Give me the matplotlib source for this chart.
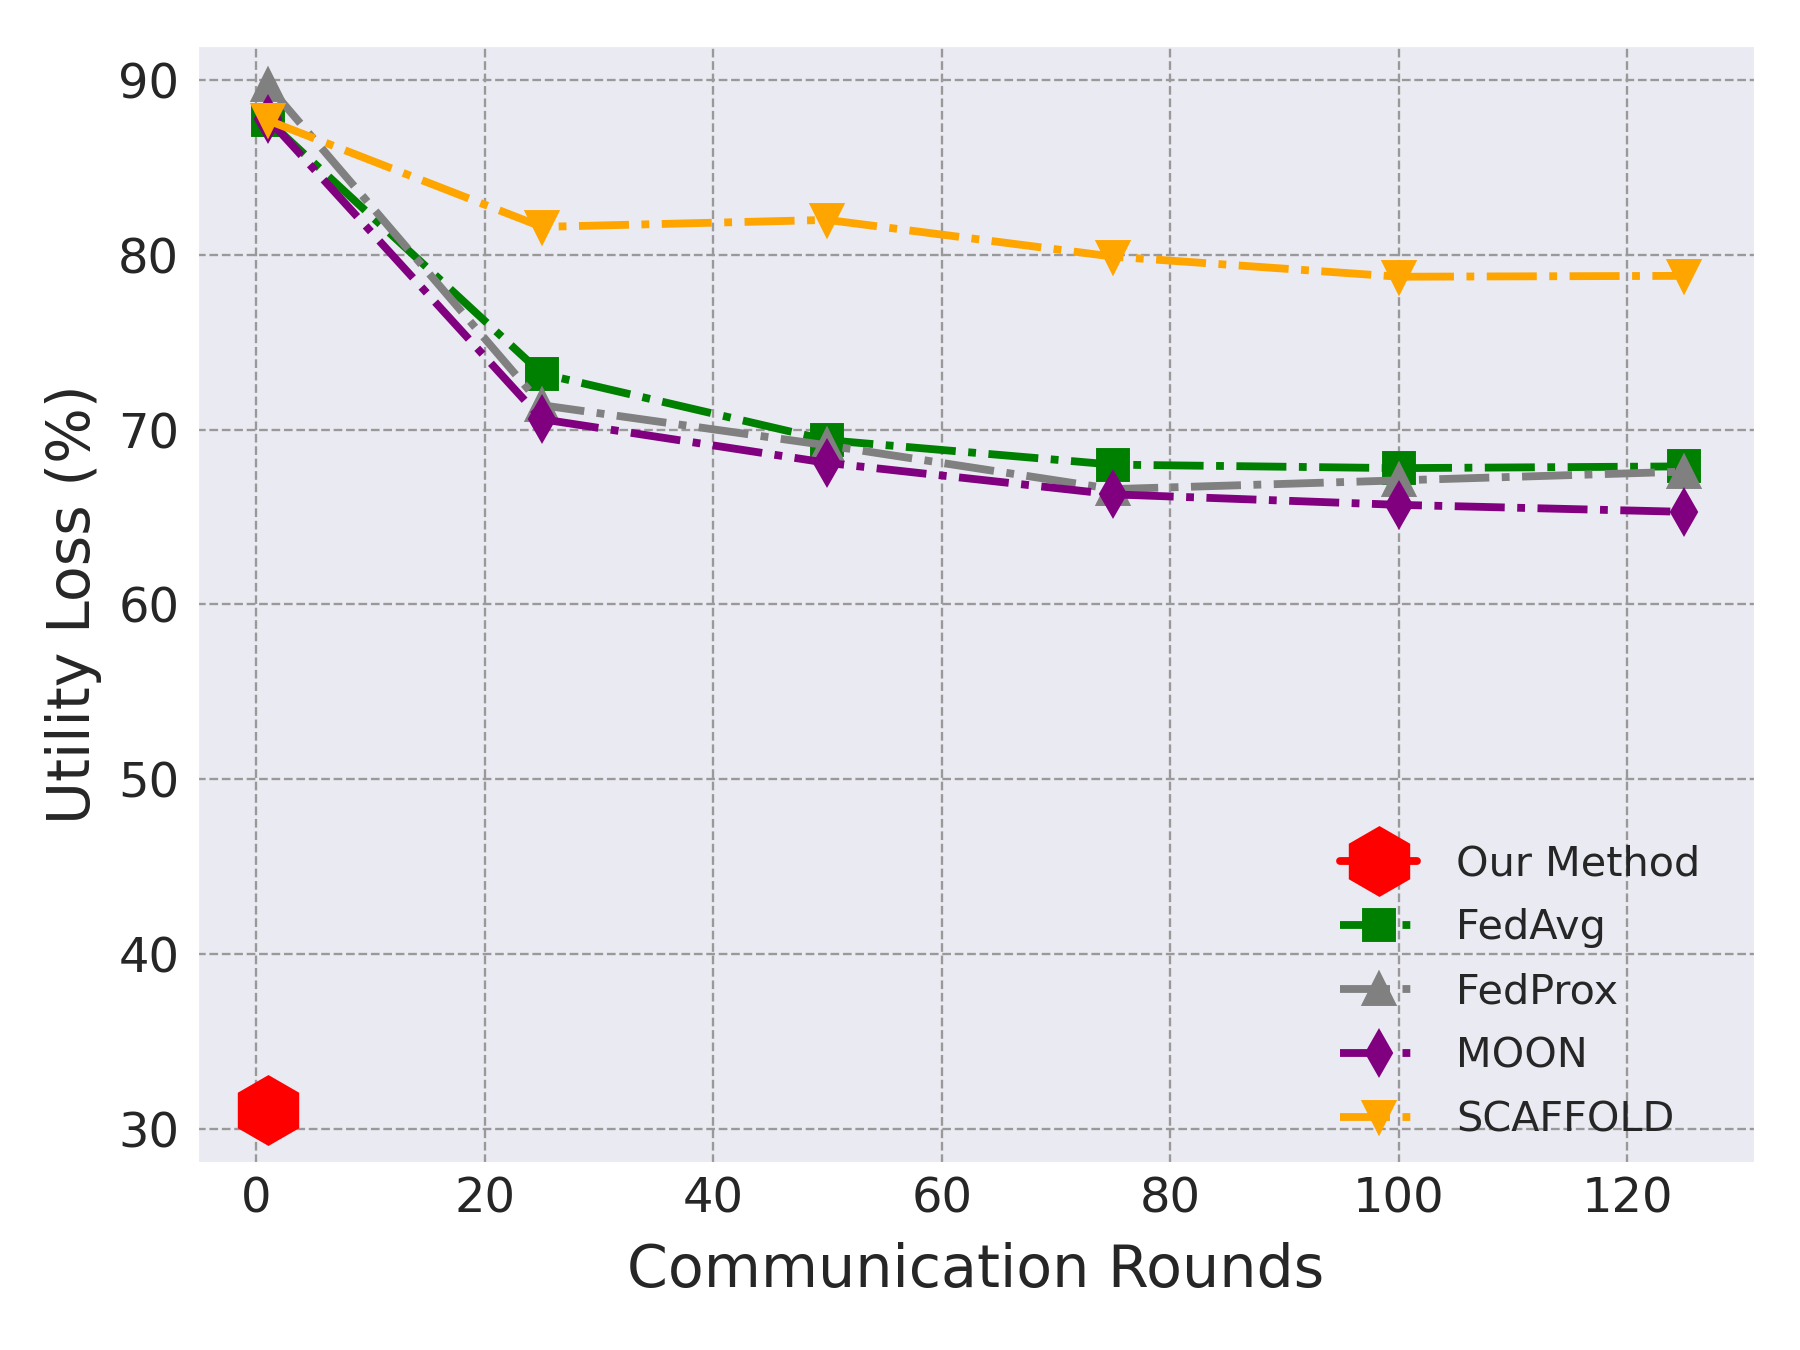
import matplotlib
matplotlib.use("Agg")
import matplotlib.pyplot as plt
import seaborn as sns

rounds = [1, 25, 50, 75, 100, 125]
our_rounds = [1]
our_method = [31.1]
fedavg = [87.7, 73.2, 69.4, 68.0, 67.8, 67.9]
fedprox = [89.7, 71.4, 69.1, 66.6, 67.1, 67.6]
moon = [87.8, 70.6, 68.1, 66.3, 65.7, 65.3]
scaffold = [87.7, 81.6, 82.0, 79.9, 78.75, 78.8]

sns.set_style("darkgrid", {"grid.color": "#999999", "grid.linestyle": "--"})
plt.rcParams['font.family'] = ['DejaVu Sans']

fig = plt.figure(figsize=(6.4, 4.8), dpi=281.25)
ax = fig.add_axes([0.1094, 0.1385, 0.8656, 0.8281])

lw = 2.0
ms = 7.5
ax.plot(our_rounds, our_method, marker='h', color='red', markersize=17,
        linestyle='-', linewidth=lw, label='Our Method')
ax.plot(rounds, fedavg, marker='s', color='green', markersize=ms,
        linestyle='-.', linewidth=lw, label='FedAvg')
ax.plot(rounds, fedprox, marker='^', color='gray', markersize=ms,
        linestyle='-.', linewidth=lw, label='FedProx')
ax.plot(rounds, moon, marker='d', color='purple', markersize=ms,
        linestyle='-.', linewidth=lw, label='MOON')
ax.plot(rounds, scaffold, marker='v', color='orange', markersize=ms,
        linestyle='-.', linewidth=lw, label='SCAFFOLD')

ax.set_ylim(28.05, 92.0)
ax.set_xticks([0, 20, 40, 60, 80, 100, 120])
ax.set_yticks([30, 40, 50, 60, 70, 80, 90])
ax.tick_params(axis='both', labelsize=12.3, length=0)
ax.tick_params(axis='x', pad=3.2)
ax.tick_params(axis='y', pad=4.5)
ax.set_xlabel('Communication Rounds', fontsize=15, labelpad=5)
ax.set_ylabel('Utility Loss (%)', fontsize=15)
ax.grid(True, color='#999999', linestyle='--', linewidth=0.6)

ax.legend(loc='lower right', bbox_to_anchor=(0.9756, 0.0054), borderaxespad=0,
          frameon=False, fontsize=10.6, handlelength=1.85, handletextpad=0.95,
          labelspacing=0.58)

fig.savefig('out.png', dpi=281.25)
